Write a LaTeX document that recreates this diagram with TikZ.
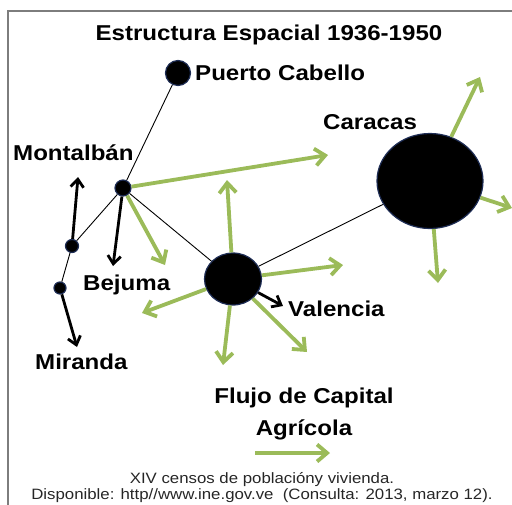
\documentclass[tikz,border=0pt]{standalone}
\usepackage{fontspec}
\setmainfont{Liberation Sans}[FakeStretch=1.12]
\usetikzlibrary{shapes.geometric,arrows.meta,positioning}
\definecolor{flujoverde}{RGB}{155,187,89}
\definecolor{bordeazul}{RGB}{30,45,85}
\definecolor{marco}{RGB}{125,125,125}

\begin{document}
\begin{tikzpicture}[x=1pt, y=-1pt,
    ciudad/.style={ellipse, fill=black, draw=bordeazul, line width=1.2pt, inner sep=0pt},
    etiqueta/.style={font=\fontsize{21.5}{32}\selectfont\bfseries, inner sep=0pt},
    nota/.style={font=\fontsize{15}{16}\selectfont, inner sep=0pt, text=black!85},
    enlace/.style={line width=0.9pt},
    migra/.style={line width=2.8pt, -{Straight Barb[length=8pt,width=13pt]}},
    flujo/.style={flujoverde, line width=3.8pt, -{Straight Barb[length=10pt,width=17pt]}}]

    \useasboundingbox (0,0) rectangle (512,504);
    \clip (0,0) rectangle (512,504);
    \draw[marco, line width=2pt] (8,520) -- (8,11) -- (520,11);

    % Title
    \node[etiqueta, anchor=base] (titulo) at (269,40) {Estructura Espacial 1936-1950};

    % Cities
    \node[ciudad, minimum width=25pt, minimum height=25pt] (pcabello) at (178,73) {};
    \node[ciudad, minimum width=16pt, minimum height=16pt] (montalban) at (123,188) {};
    \node[ciudad, minimum width=13pt, minimum height=13pt] (nodomont) at (72,246) {};
    \node[ciudad, minimum width=12pt, minimum height=12pt] (nodomir) at (60,288) {};
    \node[ciudad, minimum width=57pt, minimum height=52pt] (valencia) at (233,279) {};
    \node[ciudad, minimum width=106pt, minimum height=95pt] (caracas) at (430,181) {};

    % Labels
    \node[etiqueta, anchor=base west] (lblpc) at (195,80) {Puerto Cabello};
    \node[etiqueta, anchor=base west] (lblcar) at (323,129) {Caracas};
    \node[etiqueta, anchor=base west] (lblmont) at (13,160) {Montalbán};
    \node[etiqueta, anchor=base west] (lblbej) at (83,290) {Bejuma};
    \node[etiqueta, anchor=base west] (lblmir) at (35,369) {Miranda};
    \node[etiqueta, anchor=base west] (lblval) at (288,316) {Valencia};
    \node[etiqueta, anchor=base, align=center] (lblflujo) at (304,435) {Flujo de Capital\\Agrícola};

    % Links
    \draw[enlace] (pcabello) -- (montalban);
    \draw[enlace] (montalban) -- (nodomont);
    \draw[enlace] (nodomont) -- (nodomir);
    \draw[enlace] (montalban) -- (valencia);
    \draw[enlace] (valencia) -- (caracas);

    % Black arrows
    \coordinate (tipmont) at (78,177);
    \coordinate (tipbej) at (113,266);
    \coordinate (tipmir) at (77,347);
    \coordinate (tipval) at (283,306);
    \draw[migra] (nodomont) -- (tipmont);
    \draw[migra] (montalban) -- (tipbej);
    \draw[migra] (nodomir) -- (tipmir);
    \draw[migra] (valencia) -- (tipval);

    % Green arrows
    \coordinate (fm1) at (328,155);
    \coordinate (fm2) at (165,265);
    \coordinate (fv1) at (227,180);
    \coordinate (fv2) at (343,265);
    \coordinate (fv3) at (142,313);
    \coordinate (fv4) at (223,365);
    \coordinate (fv5) at (307,352);
    \coordinate (fc1) at (480,77);
    \coordinate (fc2) at (512,208);
    \coordinate (fc3) at (438,283);
    \draw[flujo] (montalban) -- (fm1);
    \draw[flujo] (montalban) -- (fm2);
    \foreach \t in {fv1,fv2,fv3,fv4,fv5}
        \draw[flujo] (valencia) -- (\t);
    \foreach \t in {fc1,fc2,fc3}
        \draw[flujo] (caracas) -- (\t);

    % Legend
    \coordinate (leg1) at (255,453);
    \coordinate (leg2) at (330,453);
    \draw[flujo] (leg1) -- (leg2);

    % Source
    \node[nota, anchor=base, align=center] (fuente) at (262,499) {XIV censos de poblacióny vivienda.\\Disponible: http//www.ine.gov.ve\ \ (Consulta: 2013, marzo 12).};
\end{tikzpicture}
\end{document}
